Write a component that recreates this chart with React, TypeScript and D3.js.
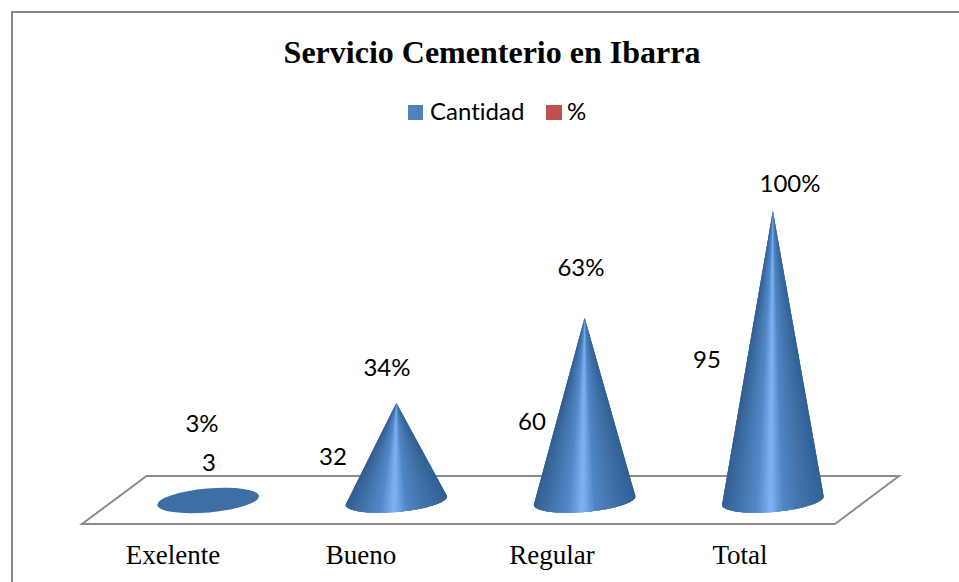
import React from "react";
import * as d3 from "d3";

const categories = ["Exelente", "Bueno", "Regular", "Total"];
const cantidad = [3, 32, 60, 95];
const percentLabels = ["3%", "34%", "63%", "100%"];
const legendItems = ["Cantidad", "%"];
const legendColors = ["#4f81bd", "#c0504d"];

const W = 959;
const H = 582;
const x = d3.scaleBand<string>().domain(categories).range([114, 867]);
const y = d3.scaleLinear().domain([0, 95]).range([500.5, 211]);
const RX = 51;
const RY = 11.5;
const ROT = -5;
const rad = (ROT * Math.PI) / 180;

const serif = "'Liberation Serif', 'Times New Roman', serif";
const sans = "Lato, 'Open Sans', sans-serif";
const textStyle = { fontVariantLigatures: "none" } as React.CSSProperties;

const countPos = [[209, 471], [333, 465], [532, 430], [707, 368]];
const pctPos = [[202, 432], [387, 376], [581, 276], [790, 192]];
const catX = [173, 361, 552, 740];

const shade = d3
  .scaleLinear<string>()
  .domain([0, 0.22, 0.4, 0.52, 0.66, 0.85, 1])
  .range(["#2f6196", "#4373a9", "#4f86c6", "#7fb4f5", "#5389c8", "#3f72a9", "#335f92"]);

const WEDGES = 60;
const OVERLAP = 3;
const ellipsePoint = (cx: number, cy: number, a: number) => {
  const px = RX * Math.cos(a);
  const py = RY * Math.sin(a);
  return [cx + px * Math.cos(rad) - py * Math.sin(rad), cy + px * Math.sin(rad) + py * Math.cos(rad)];
};

export default function App() {
  const centers = categories.map((c) => x(c)! + x.bandwidth() / 2);
  return (
    <svg width={W} height={H} style={{ position: "absolute", left: 0, top: 0, background: "#fff" }}>
      <path d="M12 582V12H959" fill="none" stroke="#868686" strokeWidth={2} />
      <text x={492} y={63} textAnchor="middle" fontFamily={serif} fontWeight={700} fontSize={32} fill="#000">
        Servicio Cementerio en Ibarra
      </text>
      <g fontFamily={sans} fontSize={24} fill="#000" style={textStyle}>
        <rect x={408} y={105} width={15} height={15} fill={legendColors[0]} />
        <text x={430} y={120}>{legendItems[0]}</text>
        <rect x={546} y={105} width={16} height={15} fill={legendColors[1]} />
        <text x={567} y={120}>{legendItems[1]}</text>
      </g>
      <path d="M146.5 476H899L835 524H82Z" fill="#fff" stroke="#8c8c8c" strokeWidth={2} />
      {categories.map((c, i) => {
        const cx = centers[i];
        const base = y(0);
        const tip = y(cantidad[i]);
        const flat = tip > base - RY - 4;
        const wedges = d3.range(WEDGES).map((k) => {
          const last = Math.min(WEDGES, k + OVERLAP);
          const pts = d3.range(k, last + 1).map((j) => ellipsePoint(cx, base, (j / WEDGES) * Math.PI));
          const mid = ellipsePoint(cx, base, ((k + 0.5) / WEDGES) * Math.PI);
          const t = 1 - (mid[0] - cx + RX) / (2 * RX);
          return { d: `M${cx} ${tip}L${pts.map((p) => `${p[0]} ${p[1]}`).join("L")}Z`, fill: shade(t) };
        });
        return (
          <g key={c}>
            {flat ? (
              <ellipse cx={cx} cy={base} rx={RX} ry={RY + 0.5} transform={`rotate(${ROT} ${cx} ${base})`} fill="#3d6fa5" />
            ) : (
              wedges.map((w, k) => <path key={k} d={w.d} fill={w.fill} />)
            )}
            <text x={countPos[i][0]} y={countPos[i][1]} textAnchor="middle" fontFamily={sans} fontSize={24} fill="#000">
              {cantidad[i]}
            </text>
            <text x={pctPos[i][0]} y={pctPos[i][1]} textAnchor="middle" fontFamily={sans} fontSize={24} fill="#000">
              {percentLabels[i]}
            </text>
            <text x={catX[i]} y={564} textAnchor="middle" fontFamily={serif} fontSize={27} fill="#000">
              {c}
            </text>
          </g>
        );
      })}
    </svg>
  );
}
